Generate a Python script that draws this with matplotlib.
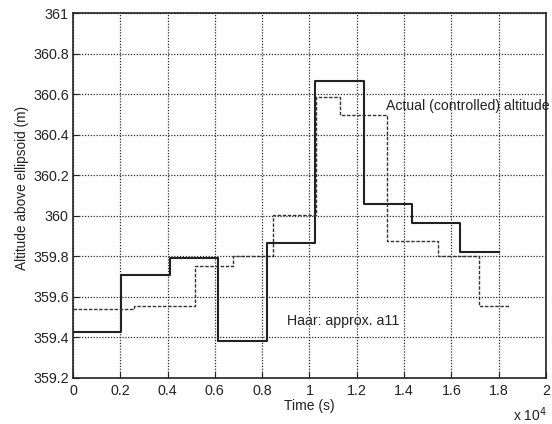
import matplotlib
matplotlib.use("Agg")
import matplotlib.pyplot as plt
from matplotlib.ticker import FuncFormatter

# Haar approximation a11 (solid step line)
haar_edges = [0, 2048, 4096, 6144, 8192, 10240, 12288, 14336, 16384, 18000]
haar_values = [359.428, 359.707, 359.790, 359.384, 359.867, 360.663, 360.057, 359.962, 359.820]

# Actual (controlled) altitude (dashed step line)
actual_edges = [0, 2600, 5150, 6780, 8460, 10280, 11290, 13260, 15450, 17180, 18440]
actual_values = [359.538, 359.555, 359.752, 359.800, 360.003, 360.586, 360.499, 359.874, 359.800, 359.555]

xticks = [0, 2000, 4000, 6000, 8000, 10000, 12000, 14000, 16000, 18000, 20000]
yticks = [359.2, 359.4, 359.6, 359.8, 360.0, 360.2, 360.4, 360.6, 360.8, 361.0]

plt.rcParams['font.family'] = ['Liberation Sans', 'DejaVu Sans']

fig = plt.figure(figsize=(5.52, 4.24), dpi=100)
ax = fig.add_axes([0.1322, 0.1085, 0.989 - 0.1322, 0.9693 - 0.1085])

ax.step(haar_edges, haar_values + [haar_values[-1]], where='post',
        color='#222222', lw=1.5)
ax.step(actual_edges, actual_values + [actual_values[-1]], where='post',
        color='#333333', lw=1.0, linestyle=(0, (2.5, 1.2)))

ax.set_xlim(0, 20000)
ax.set_ylim(359.2, 361.0)
ax.set_xticks(xticks)
ax.set_yticks(yticks)
ax.xaxis.set_major_formatter(FuncFormatter(lambda v, p: f"{v/1e4:g}"))
ax.yaxis.set_major_formatter(FuncFormatter(lambda v, p: f"{v:.1f}".rstrip('0').rstrip('.')))
ax.tick_params(direction='in', labelsize=10.3, length=4, color='#222', labelcolor='#222', pad=3)
ax.tick_params(axis='x', pad=4)
ax.grid(True, color='#2a2a2a', linestyle=(0, (1, 1.3)), lw=0.9)
for s in ax.spines.values():
    s.set_color('#222')
    s.set_linewidth(1.2)

fig.text(309 / 552, 1 - 406 / 424, 'Time (s)', fontsize=10, color='#222',
         ha='center', va='center')
fig.text(22 / 552, 1 - 188 / 424, 'Altitude above ellipsoid (m)', fontsize=9.8,
         color='#222', rotation=90, ha='center', va='center')
fig.text(513 / 552, 0.008, r'x 10$^4$', fontsize=10, color='#222',
         ha='left', va='baseline')

ax.text(13230, 360.542, 'Actual (controlled) altitude', fontsize=10.1, color='#222',
        va='center', ha='left', clip_on=False)
ax.text(9030, 359.483, 'Haar: approx. a11', fontsize=10.2, color='#222',
        va='center', ha='left')

fig.savefig('out.png', dpi=100)
